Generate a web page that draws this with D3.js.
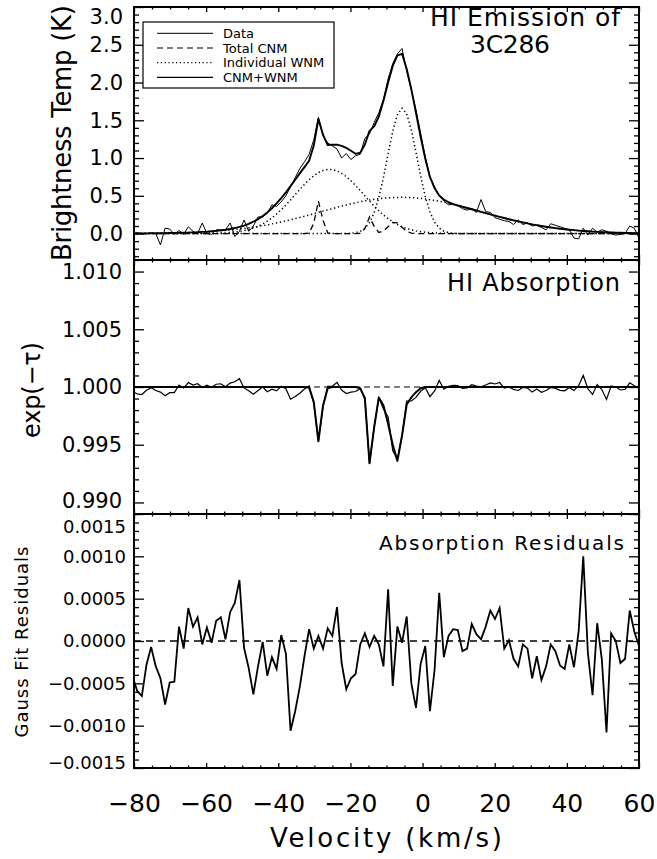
<!DOCTYPE html>
<html>
<head>
<meta charset="utf-8">
<script src="https://cdn.jsdelivr.net/npm/d3@7/dist/d3.min.js"></script>
<style>
html,body{margin:0;padding:0;background:#fff;}
svg text{font-family:"DejaVu Sans","Liberation Sans",sans-serif;fill:#000;}
</style>
</head>
<body>
<svg id="chart" width="657" height="859"></svg>
<script>
// ---------------- data (channel grid, km/s) ----------------
const velocity = [-80.40,-79.11,-77.82,-76.54,-75.25,-73.96,-72.67,-71.38,-70.10,-68.81,
 -67.52,-66.23,-64.94,-63.65,-62.37,-61.08,-59.79,-58.50,-57.21,-55.93,
 -54.64,-53.35,-52.06,-50.77,-49.49,-48.20,-46.91,-45.62,-44.33,-43.05,
 -41.76,-40.47,-39.18,-37.89,-36.60,-35.32,-34.03,-32.74,-31.45,-30.16,
 -28.88,-27.59,-26.30,-25.01,-23.72,-22.44,-21.15,-19.86,-18.57,-17.28,
 -16.00,-14.71,-13.42,-12.13,-10.84,-9.55,-8.27,-6.98,-5.69,-4.40,
 -3.11,-1.83,-0.54,0.75,2.04,3.33,4.61,5.90,7.19,8.48,
 9.77,11.05,12.34,13.63,14.92,16.21,17.50,18.78,20.07,21.36,
 22.65,23.94,25.22,26.51,27.80,29.09,30.38,31.66,32.95,34.24,
 35.53,36.82,38.11,39.39,40.68,41.97,43.26,44.55,45.83,47.12,
 48.41,49.70,50.99,52.27,53.56,54.85,56.14,57.43,58.71,60.00];

// HI emission: brightness temperature (K)
const emissionData = [0.00,0.01,0.00,0.00,0.01,0.00,-0.15,0.07,0.06,-0.01,
 0.04,-0.01,0.09,0.03,0.00,0.14,0.00,-0.01,0.05,0.05,
 0.05,0.14,-0.04,0.03,0.18,0.03,0.10,0.22,0.22,0.27,
 0.38,0.36,0.42,0.50,0.62,0.74,0.86,0.95,1.05,1.24,
 1.54,1.30,1.20,1.16,1.12,1.00,1.06,0.98,1.03,1.05,
 1.26,1.32,1.47,1.60,1.78,2.05,2.25,2.38,2.45,2.15,
 1.90,1.64,1.33,1.02,0.75,0.62,0.50,0.43,0.38,0.39,
 0.37,0.33,0.31,0.33,0.28,0.45,0.29,0.28,0.21,0.19,
 0.17,0.16,0.12,0.18,0.12,0.14,0.10,0.11,0.08,0.05,
 0.13,0.11,0.09,0.07,0.05,-0.06,-0.07,0.07,-0.02,0.07,
 0.02,0.05,0.03,0.00,-0.02,-0.01,0.00,0.10,0.07,-0.06];

const emissionFit = [0.002,0.002,0.002,0.003,0.003,0.004,0.005,0.006,0.007,0.008,
 0.010,0.011,0.013,0.016,0.018,0.022,0.025,0.030,0.036,0.043,
 0.050,0.060,0.073,0.088,0.106,0.129,0.157,0.191,0.232,0.280,
 0.335,0.399,0.469,0.546,0.628,0.713,0.797,0.880,0.964,1.165,
 1.516,1.306,1.172,1.177,1.177,1.161,1.134,1.097,1.056,1.070,
 1.180,1.360,1.420,1.550,1.760,2.000,2.220,2.360,2.380,2.180,
 1.910,1.600,1.280,0.990,0.750,0.600,0.505,0.449,0.415,0.391,
 0.372,0.355,0.339,0.322,0.305,0.288,0.271,0.255,0.238,0.222,
 0.206,0.190,0.175,0.161,0.147,0.135,0.122,0.111,0.100,0.090,
 0.081,0.072,0.064,0.057,0.051,0.045,0.039,0.034,0.030,0.026,
 0.023,0.019,0.017,0.014,0.012,0.010,0.009,0.008,0.006,0.005];

const cnmTotal = [0,0,0,0,0,0,0,0,0,0,
 0,0,0,0,0,0,0,0,0,0,
 0,0,0,0,0,0,0,0,0,0,
 0,0,0,0,0,0,0,0,0.006,0.137,
 0.430,0.174,0.009,0,0,0,0,0,0,0.003,
 0.066,0.220,0.095,0.014,0.035,0.090,0.147,0.143,0.084,0.030,
 0.006,0,0,0,0,0,0,0,0,0,
 0,0,0,0,0,0,0,0,0,0,
 0,0,0,0,0,0,0,0,0,0,
 0,0,0,0,0,0,0,0,0,0,
 0,0,0,0,0,0,0,0,0,0];

const wnm1 = [0,0,0,0,0,0,0,0,0,0,
 0,0,0,0,0,0.001,0.001,0.002,0.004,0.006,
 0.008,0.013,0.019,0.027,0.038,0.053,0.072,0.096,0.127,0.164,
 0.207,0.258,0.315,0.378,0.445,0.515,0.584,0.651,0.712,0.765,
 0.806,0.835,0.849,0.847,0.830,0.798,0.754,0.699,0.636,0.569,
 0.499,0.430,0.364,0.302,0.246,0.197,0.155,0.120,0.091,0.067,
 0.049,0.035,0.025,0.017,0.012,0.008,0.005,0.003,0.002,0.001,
 0,0,0,0,0,0,0,0,0,0,
 0,0,0,0,0,0,0,0,0,0,
 0,0,0,0,0,0,0,0,0,0,
 0,0,0,0,0,0,0,0,0,0];

const wnm2 = [0.002,0.002,0.002,0.003,0.003,0.004,0.005,0.006,0.007,0.008,
 0.010,0.011,0.013,0.016,0.018,0.021,0.024,0.028,0.032,0.037,
 0.042,0.047,0.054,0.061,0.068,0.076,0.085,0.095,0.105,0.116,
 0.128,0.141,0.154,0.168,0.183,0.198,0.213,0.229,0.246,0.263,
 0.280,0.297,0.314,0.330,0.347,0.363,0.379,0.394,0.408,0.421,
 0.433,0.444,0.453,0.462,0.468,0.474,0.477,0.479,0.480,0.479,
 0.476,0.471,0.465,0.458,0.449,0.439,0.427,0.415,0.401,0.386,
 0.371,0.355,0.339,0.322,0.305,0.288,0.271,0.255,0.238,0.222,
 0.206,0.190,0.175,0.161,0.147,0.135,0.122,0.111,0.100,0.090,
 0.081,0.072,0.064,0.057,0.051,0.045,0.039,0.034,0.030,0.026,
 0.023,0.019,0.017,0.014,0.012,0.010,0.009,0.008,0.006,0.005];

const wnm3 = [0,0,0,0,0,0,0,0,0,0,
 0,0,0,0,0,0,0,0,0,0,
 0,0,0,0,0,0,0,0,0,0,
 0,0,0,0,0,0,0,0,0,0,
 0,0,0,0,0,0,0.001,0.004,0.012,0.030,
 0.069,0.144,0.275,0.476,0.745,1.056,1.353,1.575,1.660,1.585,
 1.370,1.076,0.763,0.491,0.286,0.151,0.073,0.031,0.012,0.004,
 0.001,0,0,0,0,0,0,0,0,0,
 0,0,0,0,0,0,0,0,0,0,
 0,0,0,0,0,0,0,0,0,0,
 0,0,0,0,0,0,0,0,0,0];

// HI absorption: exp(-tau)
const absorptionData = [0.99958,0.99941,0.99935,0.99972,0.99993,0.99970,0.99956,0.99925,0.99951,0.99952,
 1.00017,0.99991,1.00039,1.00017,1.00028,0.99996,1.00016,0.99998,1.00024,1.00028,
 1.00002,1.00034,1.00045,1.00072,0.99992,0.99968,0.99937,0.99970,0.99999,0.99959,
 0.99981,0.99967,1.00007,0.99985,0.99894,0.99917,0.99946,0.99982,1.00009,0.99861,
 0.99536,0.99831,1.00005,1.00006,1.00040,0.99974,0.99943,0.99956,0.99961,0.99986,
 0.99909,0.99333,0.99656,0.99906,0.99810,0.99741,0.99447,0.99377,0.99578,0.99879,
 0.99880,0.99910,0.99963,0.99994,0.99917,0.99966,1.00057,0.99981,1.00006,1.00014,
 1.00013,0.99988,0.99991,1.00020,1.00008,1.00002,1.00017,1.00036,1.00026,1.00039,
 0.99991,1.00001,0.99979,0.99970,0.99996,0.99991,0.99956,0.99982,0.99954,0.99970,
 0.99996,0.99988,0.99971,0.99967,0.99996,0.99969,1.00011,1.00100,0.99986,0.99936,
 1.00021,0.99978,0.99892,1.00009,1.00000,0.99974,0.99979,1.00036,1.00011,0.99994];

const absorptionFit = [1,1,1,1,1,1,1,1,1,1,
 1,1,1,1,1,1,1,1,1,1,
 1,1,1,1,1,1,1,1,1,1,
 1,1,1,1,1,1,1,1,0.99995,0.9987,
 0.9953,0.9984,0.9999,1,1,1,1,1,1,0.9999,
 0.9990,0.9934,0.9965,0.9991,0.9984,0.9968,0.9950,0.9936,0.9958,0.9985,
 0.9991,0.99955,0.9999,1,1,1,1,1,1,1,
 1,1,1,1,1,1,1,1,1,1,
 1,1,1,1,1,1,1,1,1,1,
 1,1,1,1,1,1,1,1,1,1,
 1,1,1,1,1,1,1,1,1,1];

// Gaussian-fit residuals of absorption
const residuals = [-0.00042,-0.00059,-0.00065,-0.00028,-0.00007,-0.00030,-0.00044,-0.00075,-0.00049,-0.00048,
 0.00017,-0.00009,0.00039,0.00017,0.00028,-0.00004,0.00016,-0.00002,0.00024,0.00028,
 0.00002,0.00034,0.00045,0.00072,-0.00008,-0.00032,-0.00063,-0.00030,-0.00001,-0.00041,
 -0.00019,-0.00033,0.00007,-0.00015,-0.00106,-0.00083,-0.00054,-0.00018,0.00014,-0.00009,
 0.00006,-0.00009,0.00015,0.00006,0.00040,-0.00026,-0.00057,-0.00044,-0.00039,-0.00004,
 0.00009,-0.00007,0.00006,-0.00004,-0.00030,0.00061,-0.00053,0.00017,-0.00002,0.00029,
 -0.00050,-0.00079,-0.00027,-0.00006,-0.00083,-0.00034,0.00057,-0.00019,0.00006,0.00014,
 0.00013,-0.00012,-0.00009,0.00020,0.00008,0.00002,0.00017,0.00036,0.00026,0.00039,
 -0.00009,0.00001,-0.00021,-0.00030,-0.00004,-0.00009,-0.00044,-0.00018,-0.00046,-0.00030,
 -0.00004,-0.00012,-0.00029,-0.00033,-0.00004,-0.00031,0.00011,0.00100,-0.00014,-0.00064,
 0.00021,-0.00022,-0.00108,0.00009,0.00000,-0.00026,-0.00021,0.00036,0.00011,-0.00006];

// ticks
const velocityTicks = [-80,-60,-40,-20,0,20,40,60];
const velocityTickLabels = ["\u221280","\u221260","\u221240","\u221220","0","20","40","60"];
const emissionTicks = [0,0.5,1,1.5,2,2.5,3];
const emissionTickLabels = ["0.0","0.5","1.0","1.5","2.0","2.5","3.0"];
const absorptionTicks = [0.990,0.995,1.000,1.005,1.010];
const absorptionTickLabels = ["0.990","0.995","1.000","1.005","1.010"];
const residualTicks = [-0.0015,-0.0010,-0.0005,0,0.0005,0.0010,0.0015];
const residualTickLabels = ["\u22120.0015","\u22120.0010","\u22120.0005","0.0000","0.0005","0.0010","0.0015"];
const legendLabels = ["Data","Total CNM","Individual WNM","CNM+WNM"];

// ---------------- drawing ----------------
const svg = d3.select("#chart");
svg.append("rect").attr("width",657).attr("height",859).attr("fill","#fff");

const L = 134, R = 639;
const x = d3.scaleLinear().domain([-80,60]).range([L,R]);

const panels = [
  {id:"em", top:7, bottom:260, y:d3.scaleLinear().domain([-0.35,3.0]).range([260,7]),
   majors:emissionTicks, labels:emissionTickLabels, minors:d3.range(-3,31).filter(i=>i%5!==0).map(i=>i/10),
   fs:21, pad:11},
  {id:"ab", top:260, bottom:514, y:d3.scaleLinear().domain([0.989,1.011]).range([514,260]),
   majors:absorptionTicks, labels:absorptionTickLabels, minors:d3.range(-11,12).filter(i=>i%5!==0).map(i=>1+i/1000),
   fs:21, pad:12},
  {id:"rs", top:514, bottom:768, y:d3.scaleLinear().domain([-0.0015,0.0015]).range([768,514]),
   majors:residualTicks, labels:residualTickLabels, minors:d3.range(-15,16).filter(i=>i%5!==0).map(i=>i/10000),
   fs:18, pad:8}
];
const xMinors = d3.range(-80,61,5).filter(v=>v%20!==0);

const defs = svg.append("defs");
panels.forEach(p=>{
  defs.append("clipPath").attr("id","clip-"+p.id)
    .append("rect").attr("x",L).attr("y",p.top).attr("width",R-L).attr("height",p.bottom-p.top);
});

function styleAxis(g, fs){
  g.selectAll(".domain").remove();
  g.selectAll(".tick line").attr("stroke","#000").attr("stroke-width",1.3);
  g.selectAll(".tick text").attr("font-size",fs).attr("fill","#000");
}

panels.forEach((p,pi)=>{
  const g = svg.append("g");
  const gl = g.append("g").attr("transform",`translate(${L},0)`)
    .call(d3.axisLeft(p.y).tickValues(p.majors).tickSize(-10).tickPadding(p.pad)
      .tickFormat((d,i)=>p.labels[i]));
  styleAxis(gl,p.fs);
  g.append("g").attr("transform",`translate(${L},0)`)
    .call(d3.axisLeft(p.y).tickValues(p.minors).tickSize(-5).tickFormat(""))
    .call(s=>styleAxis(s,p.fs));
  g.append("g").attr("transform",`translate(${R},0)`)
    .call(d3.axisRight(p.y).tickValues(p.majors).tickSize(-10).tickFormat(""))
    .call(s=>styleAxis(s,p.fs));
  g.append("g").attr("transform",`translate(${R},0)`)
    .call(d3.axisRight(p.y).tickValues(p.minors).tickSize(-5).tickFormat(""))
    .call(s=>styleAxis(s,p.fs));
  g.append("g").attr("transform",`translate(0,${p.top})`)
    .call(d3.axisTop(x).tickValues(velocityTicks).tickSize(-5).tickFormat(""))
    .call(s=>styleAxis(s,p.fs));
  g.append("g").attr("transform",`translate(0,${p.top})`)
    .call(d3.axisTop(x).tickValues(xMinors).tickSize(-2.5).tickFormat(""))
    .call(s=>styleAxis(s,p.fs));
  const last = pi===panels.length-1;
  const gb = g.append("g").attr("transform",`translate(0,${p.bottom})`)
    .call(d3.axisBottom(x).tickValues(velocityTicks).tickSize(-5).tickPadding(26)
      .tickFormat((d,i)=> last ? velocityTickLabels[i] : ""));
  styleAxis(gb,25);
  g.append("g").attr("transform",`translate(0,${p.bottom})`)
    .call(d3.axisBottom(x).tickValues(xMinors).tickSize(-2.5).tickFormat(""))
    .call(s=>styleAxis(s,25));
  p.axisLeftG = gl;
});

// shift extreme y-labels inward (as in original)
panels[0].axisLeftG.selectAll(".tick text").filter(d=>d===3).attr("dy","0.8em");
panels[1].axisLeftG.selectAll(".tick text").filter(d=>d===0.990).attr("dy","0.26em");
panels[2].axisLeftG.selectAll(".tick text").filter(d=>d===0.0015).attr("dy","1.0em");
panels[2].axisLeftG.selectAll(".tick text").filter(d=>d===-0.0015).attr("dy","0.04em");

// ------- emission panel -------
const pe = panels[0];
const ge = svg.append("g").attr("clip-path","url(#clip-em)");
const lineE = (arr)=>d3.line().x((d,i)=>x(velocity[i])).y(d=>pe.y(d))(arr);
[wnm1,wnm2,wnm3].forEach(arr=>{
  ge.append("path").attr("d",lineE(arr)).attr("fill","none").attr("stroke","#000")
    .attr("stroke-width",1.5).attr("stroke-dasharray","1.3,2.7");
});
ge.append("path").attr("d",lineE(cnmTotal)).attr("fill","none").attr("stroke","#000")
  .attr("stroke-width",1.3).attr("stroke-dasharray","6,4");
ge.append("path").attr("d",lineE(emissionData)).attr("fill","none").attr("stroke","#000")
  .attr("stroke-width",1).attr("stroke-linejoin","miter");
ge.append("path").attr("d",lineE(emissionFit)).attr("fill","none").attr("stroke","#000")
  .attr("stroke-width",1.9).attr("stroke-linejoin","round");

// ------- absorption panel -------
const pa = panels[1];
const ga = svg.append("g").attr("clip-path","url(#clip-ab)");
const lineA = (arr)=>d3.line().x((d,i)=>x(velocity[i])).y(d=>pa.y(d))(arr);
ga.append("path").attr("d",d3.line()([[x(-80),pa.y(1)],[x(60),pa.y(1)]]))
  .attr("stroke","#000").attr("stroke-width",1).attr("stroke-dasharray","6,4").attr("fill","none");
ga.append("path").attr("d",lineA(absorptionData)).attr("fill","none").attr("stroke","#000")
  .attr("stroke-width",1.2);
ga.append("path").attr("d",lineA(absorptionFit)).attr("fill","none").attr("stroke","#000")
  .attr("stroke-width",2).attr("stroke-linejoin","round");

// ------- residual panel -------
const pr = panels[2];
const gr = svg.append("g").attr("clip-path","url(#clip-rs)");
gr.append("path").attr("d",d3.line()([[x(-80),pr.y(0)],[x(60),pr.y(0)]]))
  .attr("stroke","#000").attr("stroke-width",1.3).attr("stroke-dasharray","7,5").attr("fill","none");
gr.append("path").attr("d",d3.line().x((d,i)=>x(velocity[i])).y(d=>pr.y(d))(residuals))
  .attr("fill","none").attr("stroke","#000").attr("stroke-width",1.8).attr("stroke-linejoin","miter");

// borders
panels.forEach(p=>{
  svg.append("rect").attr("x",L).attr("y",p.top).attr("width",R-L).attr("height",p.bottom-p.top)
    .attr("fill","none").attr("stroke","#000").attr("stroke-width",2);
});

// ------- legend -------
const lg = svg.append("g");
lg.append("rect").attr("x",143).attr("y",22).attr("width",191).attr("height",66)
  .attr("fill","#fff").attr("stroke","#000").attr("stroke-width",1.2);
const legendStyles = [
  {w:1, dash:null},{w:1.2, dash:"6,4"},{w:1.3, dash:"1.2,2.6"},{w:1.3, dash:null}
];
legendLabels.forEach((t,i)=>{
  const yy = 33.3 + i*14.7;
  lg.append("line").attr("x1",157).attr("x2",213).attr("y1",yy).attr("y2",yy)
    .attr("stroke","#000").attr("stroke-width",legendStyles[i].w)
    .attr("stroke-dasharray",legendStyles[i].dash);
  lg.append("text").attr("x",223).attr("y",yy+4.5).attr("font-size",13).text(t);
});

// ------- titles -------
svg.append("text").attr("x",620).attr("y",26).attr("text-anchor","end")
  .attr("font-size",25).attr("textLength",190).text("HI Emission of");
svg.append("text").attr("x",510).attr("y",53).attr("text-anchor","middle")
  .attr("font-size",25).attr("textLength",80).text("3C286");
svg.append("text").attr("x",620).attr("y",291).attr("text-anchor","end")
  .attr("font-size",24).attr("textLength",173).text("HI Absorption");
svg.append("text").attr("x",624).attr("y",550).attr("text-anchor","end")
  .attr("font-size",20).attr("textLength",245).text("Absorption Residuals");

// axis titles
svg.append("text").attr("transform","translate(386,847)").attr("text-anchor","middle")
  .attr("font-size",26).attr("textLength",232).text("Velocity (km/s)");
svg.append("text").attr("transform","translate(71,133) rotate(-90)").attr("text-anchor","middle")
  .attr("font-size",26).attr("textLength",256).text("Brightness Temp (K)");
svg.append("text").attr("transform","translate(40,390) rotate(-90)").attr("text-anchor","middle")
  .attr("font-size",24).attr("textLength",96).text("exp(\u2212\u03C4)");
svg.append("text").attr("transform","translate(28,642) rotate(-90)").attr("text-anchor","middle")
  .attr("font-size",18).attr("textLength",191).text("Gauss Fit Residuals");
</script>
</body>
</html>
